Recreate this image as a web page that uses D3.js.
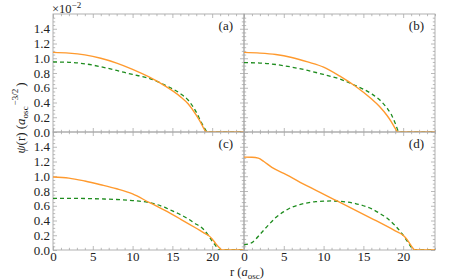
<!DOCTYPE html>
<html>
<head>
<meta charset="utf-8">
<script src="https://cdn.jsdelivr.net/npm/d3@7"></script>
<style>
  body { margin: 0; background: #fff; }
  svg { display: block; }
  text { font-family: "Liberation Serif", "DejaVu Serif", serif; fill: #222; }
</style>
</head>
<body>
<div id="chart"></div>
<script>
const width = 463;
const height = 280;

// radial grid (r in a_osc) and wavefunction values (x 10^-2) for each panel
const rA = [0, 2, 4, 6, 8, 10, 12, 14, 16, 17, 18, 18.5, 19, 19.3, 24];
const orangeA = [1.08, 1.07, 1.045, 1.0, 0.935, 0.85, 0.75, 0.63, 0.48, 0.38, 0.23, 0.14, 0.04, 0, 0];
const rAg = [0, 2, 4, 6, 8, 10, 12, 14, 16, 17, 18, 18.5, 19, 19.4, 24];
const greenA = [0.95, 0.945, 0.925, 0.885, 0.835, 0.78, 0.73, 0.64, 0.52, 0.43, 0.27, 0.16, 0.06, 0, 0];

const rB = [0, 2, 4, 6, 8, 10, 12, 14, 16, 17, 18, 18.5, 19, 19.3, 24];
const orangeB = [1.08, 1.07, 1.05, 1.01, 0.95, 0.88, 0.76, 0.62, 0.45, 0.35, 0.22, 0.14, 0.05, 0, 0];
const rBg = [0, 2, 4, 6, 8, 10, 12, 14, 16, 17, 18, 18.5, 19, 19.5, 24];
const greenB = [0.94, 0.935, 0.915, 0.88, 0.835, 0.78, 0.72, 0.63, 0.52, 0.44, 0.32, 0.24, 0.12, 0, 0];

const rC = [0, 2, 4, 6, 8, 10, 12, 14, 16, 18, 19, 19.5, 20, 20.5, 21, 21.2, 24];
const orangeC = [0.99, 0.975, 0.935, 0.885, 0.83, 0.76, 0.65, 0.54, 0.42, 0.295, 0.23, 0.2, 0.15, 0.08, 0.02, 0, 0];
const rCg = [0, 2, 4, 6, 8, 10, 12, 14, 15, 16, 17, 18, 18.5, 19, 19.5, 20, 20.5, 20.8, 24];
const greenC = [0.70, 0.70, 0.698, 0.693, 0.685, 0.67, 0.645, 0.58, 0.53, 0.48, 0.42, 0.35, 0.32, 0.27, 0.2, 0.12, 0.05, 0, 0];

const rD = [0, 1, 1.8, 2.5, 3.5, 5, 8, 12, 16, 19, 20, 20.5, 21, 21.5, 24];
const orangeD = [1.26, 1.258, 1.245, 1.2, 1.12, 1.04, 0.865, 0.65, 0.43, 0.26, 0.2, 0.14, 0.06, 0, 0];
const rDg = [0, 1, 1.5, 2, 3, 4, 5, 6, 7, 8, 9, 10, 11, 12, 13, 14, 15, 16, 17, 18, 19, 20, 20.5, 21, 21.3, 24];
const greenD = [0.07, 0.1, 0.15, 0.21, 0.33, 0.44, 0.52, 0.58, 0.615, 0.64, 0.655, 0.662, 0.665, 0.66, 0.65, 0.63, 0.6, 0.56, 0.5, 0.43, 0.33, 0.2, 0.12, 0.04, 0, 0];

const panelNames = ["(a)", "(b)", "(c)", "(d)"];
const xTicks = [0, 5, 10, 15, 20];
const yTicks = [0, 0.2, 0.4, 0.6, 0.8, 1.0, 1.2, 1.4];

const plotLeft = 53, plotTop = 14, pw = 191, ph = 118;
const orange = "#ff9a2e";
const green = "#1e8c1e";
const frame = "#a8a8a8";

const svg = d3.select("#chart").append("svg")
  .attr("width", width)
  .attr("height", height);

const x = d3.scaleLinear().domain([0, 24]).range([0, pw]);
const y = d3.scaleLinear().domain([0, 1.6]).range([ph, 0]);

const xMinor = d3.range(0, 25, 1).filter(v => v % 5 !== 0);
const yMinor = d3.range(0, 33).map(i => i * 0.05).filter((v, i) => i % 4 !== 0 && v <= 1.6);

const line = d3.line()
  .x(d => x(d[0]))
  .y(d => y(d[1]))
  .curve(d3.curveMonotoneX);

const panels = [
  { name: panelNames[0], col: 0, row: 0, o: [rA, orangeA], g: [rAg, greenA] },
  { name: panelNames[1], col: 1, row: 0, o: [rB, orangeB], g: [rBg, greenB] },
  { name: panelNames[2], col: 0, row: 1, o: [rC, orangeC], g: [rCg, greenC] },
  { name: panelNames[3], col: 1, row: 1, o: [rD, orangeD], g: [rDg, greenD] },
];

function styleAxis(g) {
  g.attr("font-family", null);
  g.select(".domain").remove();
  g.selectAll(".tick line").attr("stroke", frame).attr("stroke-width", 0.8);
  g.selectAll(".tick text")
    .style("font-family", '"Liberation Serif", serif')
    .style("font-size", "13px")
    .attr("fill", "#222");
}

panels.forEach(p => {
  const g = svg.append("g")
    .attr("transform", `translate(${plotLeft + p.col * pw},${plotTop + p.row * ph})`);

  const showY = p.col === 0;
  const showX = p.row === 1;

  // minor ticks
  g.append("g").attr("transform", `translate(0,${ph})`)
    .call(d3.axisBottom(x).tickValues(xMinor).tickSize(-2.2).tickFormat("")).call(styleAxis);
  g.append("g")
    .call(d3.axisTop(x).tickValues(xMinor).tickSize(-2.2).tickFormat("")).call(styleAxis);
  g.append("g")
    .call(d3.axisLeft(y).tickValues(yMinor).tickSize(-2.2).tickFormat("")).call(styleAxis);
  g.append("g").attr("transform", `translate(${pw},0)`)
    .call(d3.axisRight(y).tickValues(yMinor).tickSize(-2.2).tickFormat("")).call(styleAxis);

  // major ticks
  g.append("g").attr("transform", `translate(0,${ph})`)
    .call(d3.axisBottom(x).tickValues(xTicks).tickSize(-4).tickPadding(2)
      .tickFormat(showX ? d3.format("d") : ""))
    .call(styleAxis);
  g.append("g")
    .call(d3.axisTop(x).tickValues(xTicks).tickSize(-4).tickFormat("")).call(styleAxis);
  g.append("g")
    .call(d3.axisLeft(y).tickValues(yTicks).tickSize(-4).tickPadding(3)
      .tickFormat(showY ? d3.format(".1f") : ""))
    .call(styleAxis);
  g.append("g").attr("transform", `translate(${pw},0)`)
    .call(d3.axisRight(y).tickValues(yTicks).tickSize(-4).tickFormat("")).call(styleAxis);

  g.append("rect")
    .attr("width", pw).attr("height", ph)
    .attr("fill", "none").attr("stroke", frame).attr("stroke-width", 0.9);

  const clip = "clip" + p.col + p.row;
  g.append("clipPath").attr("id", clip)
    .append("rect").attr("x", 0).attr("y", -2).attr("width", pw).attr("height", ph + 2);

  const og = p.o[0].map((r, i) => [r, p.o[1][i]]);
  const gg = p.g[0].map((r, i) => [r, p.g[1][i]]);

  g.append("path")
    .attr("clip-path", `url(#${clip})`)
    .attr("d", line(gg))
    .attr("fill", "none")
    .attr("stroke", green)
    .attr("stroke-width", 1.3)
    .attr("stroke-dasharray", "4,3");

  g.append("path")
    .attr("clip-path", `url(#${clip})`)
    .attr("d", line(og))
    .attr("fill", "none")
    .attr("stroke", orange)
    .attr("stroke-width", 1.4);

  g.append("text")
    .attr("x", pw - 11)
    .attr("y", 15.5)
    .attr("text-anchor", "end")
    .style("font-size", "13px")
    .text(p.name);
});

// exponent marker
const ex = svg.append("text").attr("x", 52).attr("y", 13).style("font-size", "12.5px");
ex.append("tspan").text("×10");
ex.append("tspan").attr("dy", -5).style("font-size", "9px").text("−2");

// axis titles
const yl = svg.append("text")
  .attr("transform", "translate(25,118) rotate(-90)")
  .attr("text-anchor", "middle")
  .style("font-size", "13px");
yl.append("tspan").style("font-style", "italic").text("ψ");
yl.append("tspan").text("(r) (");
yl.append("tspan").style("font-style", "italic").text("a");
yl.append("tspan").attr("dy", 2.5).style("font-size", "9px").text("osc");
yl.append("tspan").attr("dy", -10).attr("dx", 1).style("font-size", "9px").text("−3/2");
yl.append("tspan").attr("dy", 7.5).attr("dx", 2).text(")");

const xl = svg.append("text")
  .attr("x", 247)
  .attr("y", 276)
  .attr("text-anchor", "middle")
  .style("font-size", "12.5px");
xl.append("tspan").text("r (");
xl.append("tspan").style("font-style", "italic").text("a");
xl.append("tspan").attr("dy", 2.5).style("font-size", "9px").text("osc");
xl.append("tspan").attr("dy", -2.5).text(")");
</script>
</body>
</html>
